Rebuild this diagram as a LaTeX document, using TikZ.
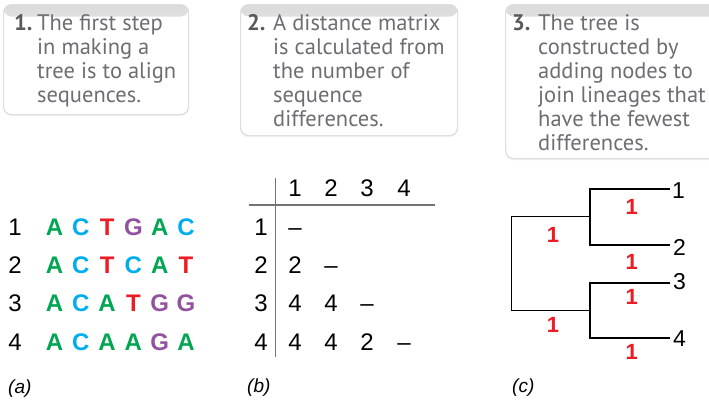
\documentclass[tikz,border=0pt]{standalone}
\usepackage{fontspec}
\setmainfont{Liberation Sans}
\newfontfamily\boxfont{PT Sans}
\usepackage{xcolor}
\usepackage{tikz}
\usetikzlibrary{positioning,shadows}

\definecolor{ntA}{RGB}{0,166,81}
\definecolor{ntC}{RGB}{0,174,239}
\definecolor{ntT}{RGB}{237,28,36}
\definecolor{ntG}{RGB}{146,82,160}
\definecolor{boxgray}{RGB}{109,110,113}
\definecolor{numgray}{RGB}{88,89,91}

\begin{document}
\begin{tikzpicture}[
    x=1pt, y=-1pt,
    stepbox/.style={anchor=north west,rounded corners=8pt,draw=black!13,line width=1.2pt,
                    fill=white,drop shadow={opacity=0.12,shadow xshift=0pt,shadow yshift=-1.5pt},
                    path picture={\shade[top color=black!14,bottom color=white]
                      (path picture bounding box.north west) rectangle
                      ([yshift=-12pt]path picture bounding box.north east);}},
    steptext/.style={anchor=base west,align=left,inner sep=0pt,
                     font=\boxfont\fontsize{22.5}{24}\selectfont,text=boxgray},
    stepnum/.style={steptext,font=\boxfont\bfseries\fontsize{22.5}{24}\selectfont,text=numgray},
    fig/.style={anchor=base,inner sep=0pt,font=\fontsize{24}{28}\selectfont},
    nt/.style={fig,font=\bfseries\fontsize{24}{28}\selectfont},
    brlen/.style={inner sep=0pt,font=\bfseries\fontsize{22}{26}\selectfont,text=ntT},
    leaf/.style={anchor=west,inner sep=0pt,font=\fontsize{23}{26}\selectfont},
    panel/.style={anchor=base west,inner sep=0pt,font=\itshape\fontsize{19}{22}\selectfont},
    rule/.style={black!55,line width=1.2pt},
    branch/.style={black,line width=1.5pt},
  ]
  \clip (0,0) rectangle (709,399);

  % --- step boxes (text nodes sit on their last baseline) ---
  \node[stepbox,minimum width=185pt,minimum height=110pt] (box1) at (3,4) {};
  \node[stepbox,minimum width=217pt,minimum height=131pt] (box2) at (240,4) {};
  \node[stepbox,minimum width=240pt,minimum height=154pt] (box3) at (505,4) {};

  \node[stepnum]  (num1) at (14,30.5) {1.};
  \node[steptext] (txt1) at (37,102.5) {The first step\\in making a\\tree is to align\\sequences.};
  \node[stepnum]  (num2) at (247,30.5) {2.};
  \node[steptext] (txt2) at (273,126.5) {A distance matrix\\is calculated from\\the number of\\sequence\\differences.};
  \node[stepnum]  (num3) at (512,30.5) {3.};
  \node[steptext] (txt3) at (538,150.5) {The tree is\\constructed by\\adding nodes to\\join lineages that\\have the fewest\\differences.};

  % --- (a) aligned sequences ---
  \foreach \seq [count=\r] in {{A,C,T,G,A,C},{A,C,T,C,A,T},{A,C,A,T,G,G},{A,C,A,A,G,A}} {
    \node[fig] (sq\r) at (15,{235+38.4*(\r-1)}) {\r};
    \foreach \l [count=\c] in \seq
      \node[nt,text=nt\l] (s\r\c) at ({54.5+26.3*(\c-1)},{235+38.4*(\r-1)}) {\l};
  }
  \node[panel] (pa) at (8,393) {(a)};

  % --- (b) distance matrix ---
  \coordinate (vtop) at (275.5,178);
  \coordinate (vbot) at (275.5,357);
  \coordinate (hl) at (249,205);
  \coordinate (hr) at (435,205);
  \draw[rule] (vtop) -- (vbot);
  \draw[rule] (hl) -- (hr);

  \node[fig] (hd1) at (295,196) {1};
  \node[fig] (hd2) at (331,196) {2};
  \node[fig] (hd3) at (367,196) {3};
  \node[fig] (hd4) at (404,196) {4};

  \node[fig] (rw1) at (261,235) {1};
  \node[fig] (rw2) at (261,273.4) {2};
  \node[fig] (rw3) at (261,311.8) {3};
  \node[fig] (rw4) at (261,350.2) {4};

  \node[fig] (d11) at (295,235) {--};
  \node[fig] (d21) at (295,273.4) {2};
  \node[fig] (d22) at (331,273.4) {--};
  \node[fig] (d31) at (295,311.8) {4};
  \node[fig] (d32) at (331,311.8) {4};
  \node[fig] (d33) at (367,311.8) {--};
  \node[fig] (d41) at (295,350.2) {4};
  \node[fig] (d42) at (331,350.2) {4};
  \node[fig] (d43) at (367,350.2) {2};
  \node[fig] (d44) at (404,350.2) {--};
  \node[panel] (pb) at (247,392) {(b)};

  % --- (c) tree ---
  \coordinate (root) at (511.7,263.5);
  \coordinate (ja) at (590,216.7);
  \coordinate (jb) at (590,310.3);
  \coordinate (t1) at (670,189);
  \coordinate (t2) at (670,245);
  \coordinate (t3) at (670,283);
  \coordinate (t4) at (670,338);
  \draw[branch] (ja) -| (root) |- (jb);
  \draw[branch] (t1) -| (ja) |- (t2);
  \draw[branch] (t3) -| (jb) |- (t4);

  \node[leaf] (lf1) at (672,191) {1};
  \node[leaf] (lf2) at (673,247) {2};
  \node[leaf] (lf3) at (673,282) {3};
  \node[leaf] (lf4) at (673,339) {4};

  \node[brlen] (b1) at (631.7,207) {1};
  \node[brlen] (b2) at (631.7,262) {1};
  \node[brlen] (b3) at (631.7,297) {1};
  \node[brlen] (b4) at (631.7,352) {1};
  \node[brlen] (ba) at (553,235) {1};
  \node[brlen] (bb) at (553,325) {1};
  \node[panel] (pc) at (512,392) {(c)};

\end{tikzpicture}
\end{document}
